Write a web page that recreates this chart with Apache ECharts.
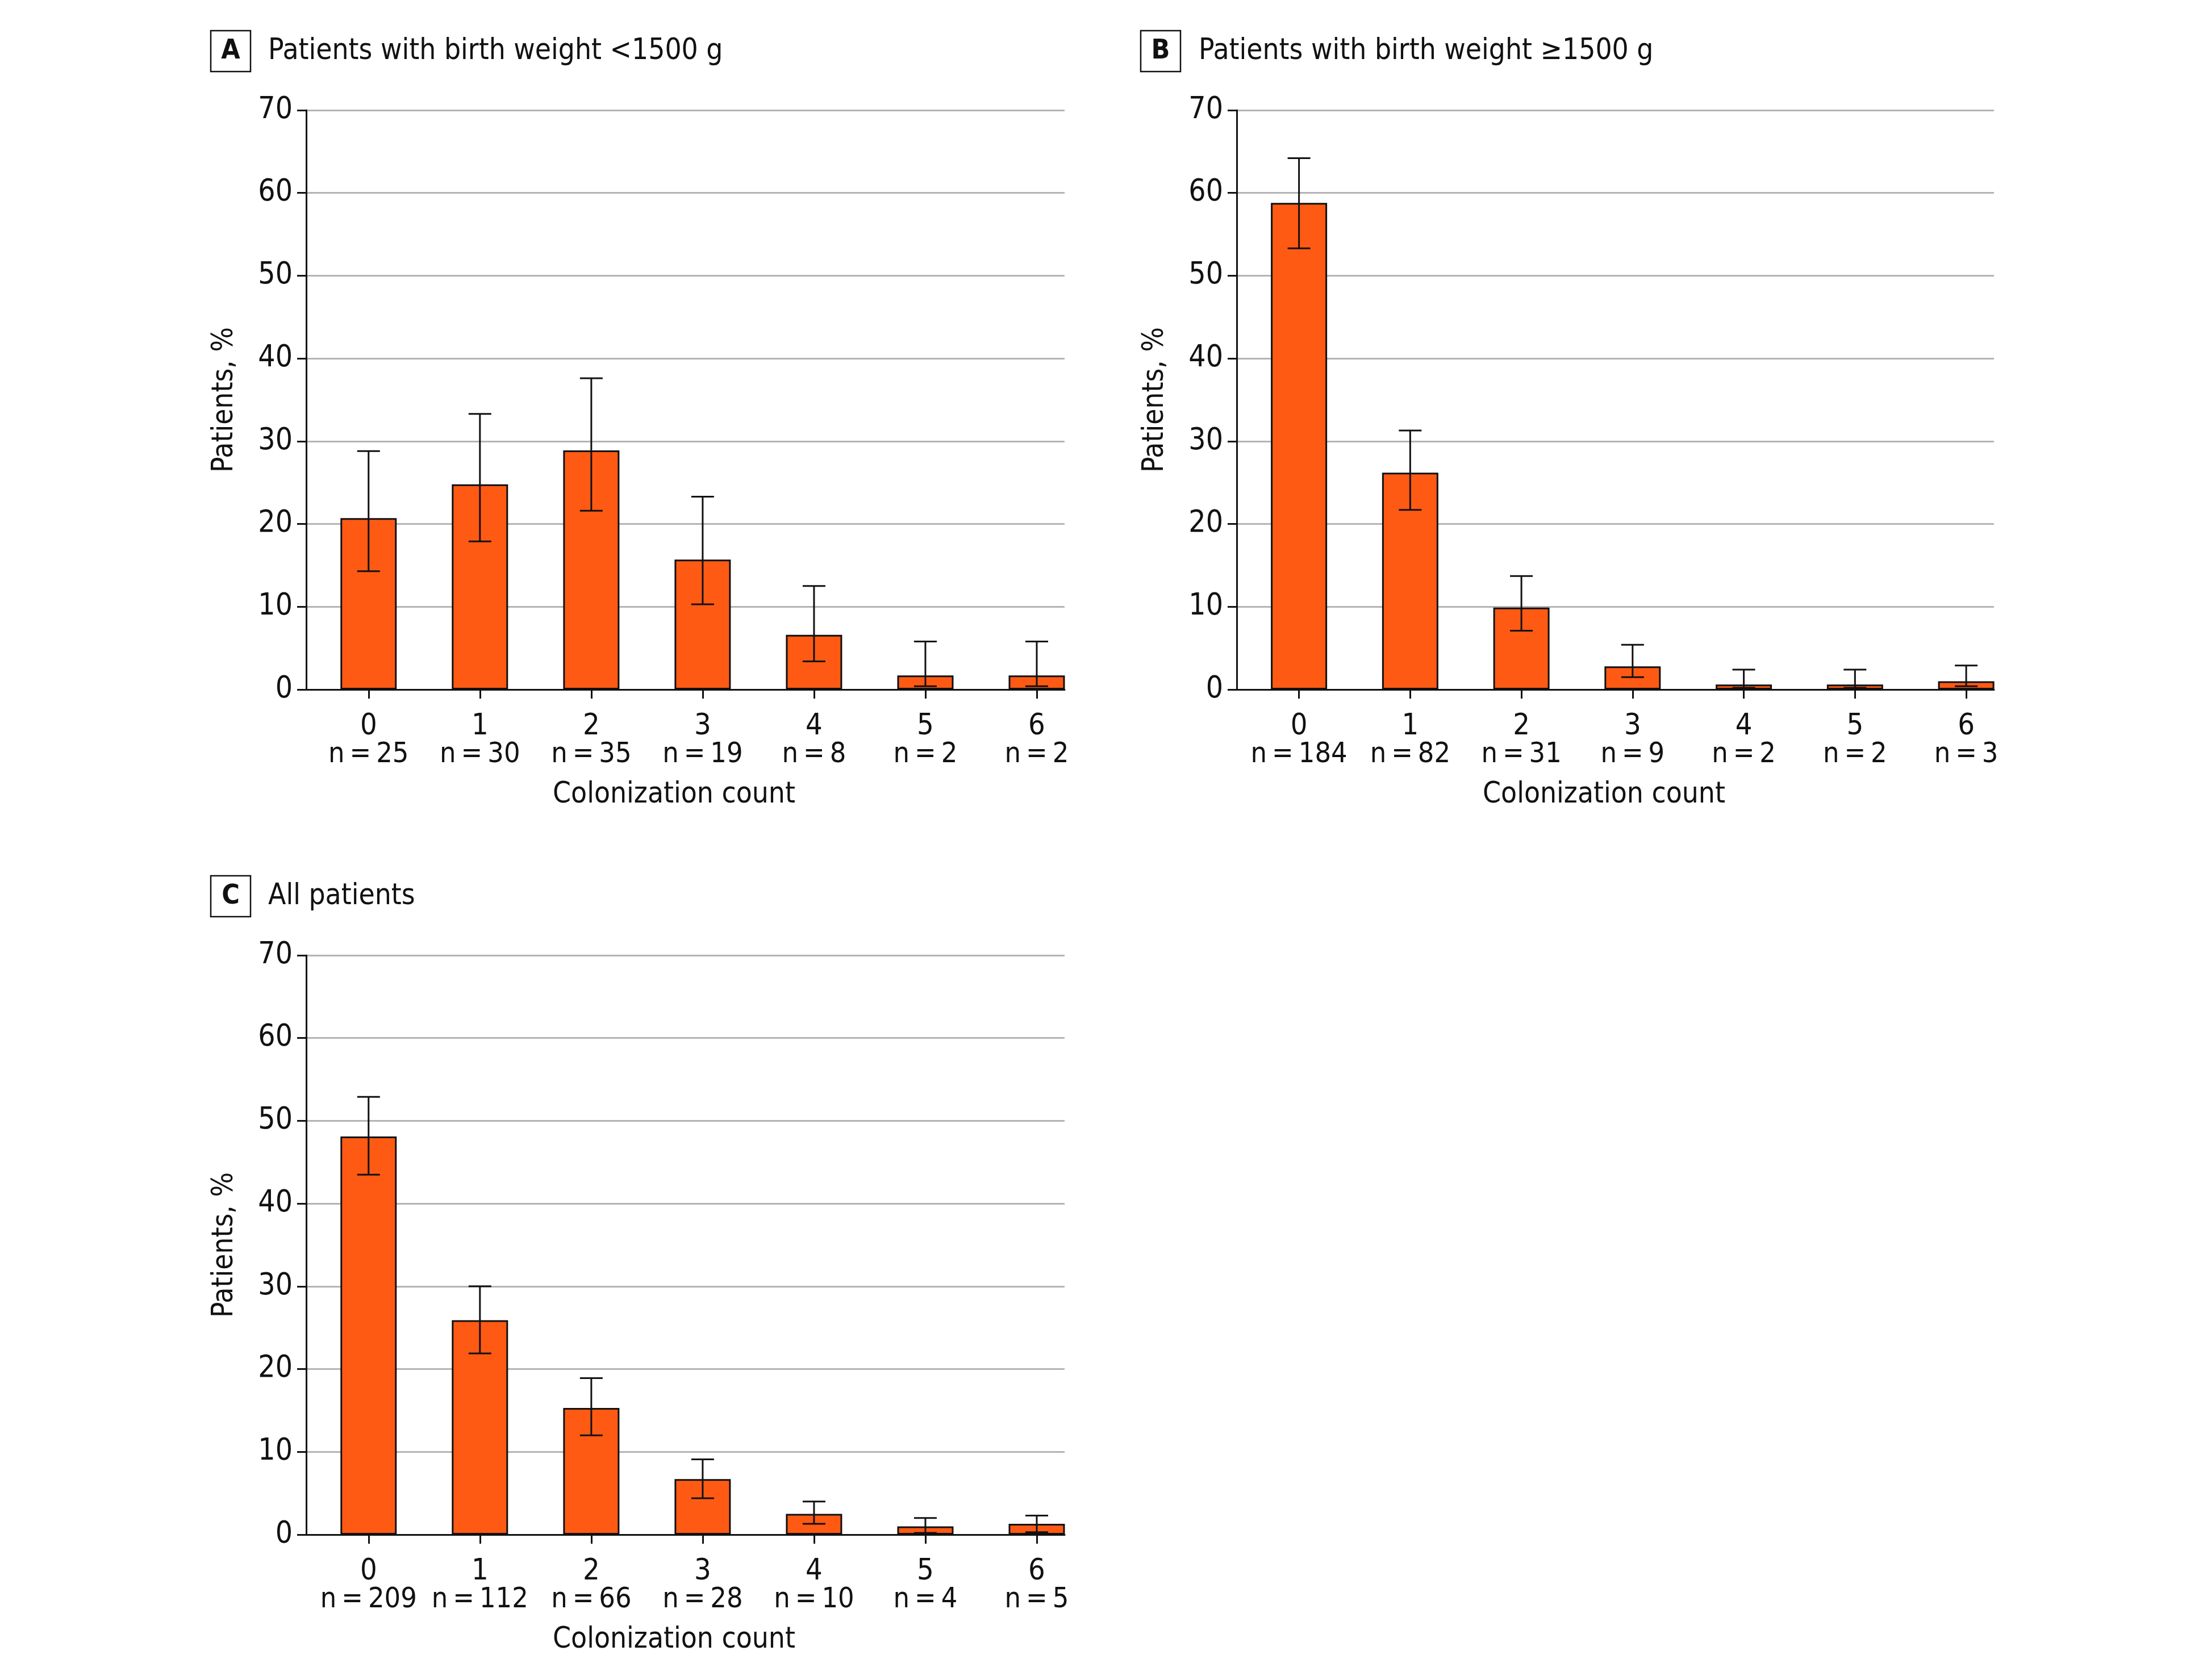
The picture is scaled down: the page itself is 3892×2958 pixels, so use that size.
<!DOCTYPE html>
<html>
<head>
<meta charset="utf-8">
<script src="https://cdn.jsdelivr.net/npm/echarts@6/dist/echarts.min.js"></script>
<style>
body { margin: 0; background: #fff; }
#chart { width: 3892px; height: 2958px; }
</style>
</head>
<body>
<div id="chart"></div>
<script>
// colonization count categories (x positions)
var counts = [0, 1, 2, 3, 4, 5, 6];

// A: birth weight <1500 g
var nA = [25, 30, 35, 19, 8, 2, 2];
var pctA = [20.7, 24.8, 28.9, 15.7, 6.6, 1.7, 1.7];
var lowA = [14.3, 17.9, 21.6, 10.3, 3.4, 0.4, 0.4];
var highA = [28.8, 33.3, 37.6, 23.3, 12.5, 5.8, 5.8];

// B: birth weight >=1500 g
var nB = [184, 82, 31, 9, 2, 2, 3];
var pctB = [58.8, 26.2, 9.9, 2.8, 0.6, 0.6, 1.0];
var lowB = [53.3, 21.7, 7.1, 1.5, 0.2, 0.2, 0.4];
var highB = [64.2, 31.3, 13.7, 5.4, 2.4, 2.4, 2.9];

// C: all patients
var nC = [209, 112, 66, 28, 10, 4, 5];
var pctC = [48.1, 25.9, 15.3, 6.7, 2.5, 1.0, 1.3];
var lowC = [43.5, 21.9, 12.0, 4.4, 1.3, 0.2, 0.3];
var highC = [52.9, 30.0, 18.9, 9.1, 4.0, 2.0, 2.3];

var FONT = '"DejaVu Sans Condensed", "Liberation Sans Narrow", sans-serif';
var BAR = '#ff5a14';
var INK = '#111';

var panels = [
    {letter: 'A', title: 'Patients with birth weight <1500 g', n: nA, pct: pctA, low: lowA, high: highA,
     grid: {left: 539, top: 194, width: 1335, height: 1020}, box: [371, 54], titleX: 472},
    {letter: 'B', title: 'Patients with birth weight \u22651500 g', n: nB, pct: pctB, low: lowB, high: highB,
     grid: {left: 2177, top: 194, width: 1333, height: 1020}, box: [2008, 54], titleX: 2110},
    {letter: 'C', title: 'All patients', n: nC, pct: pctC, low: lowC, high: highC,
     grid: {left: 539, top: 1682, width: 1335, height: 1020}, box: [371, 1542], titleX: 472}
];

function errorBar(params, api) {
    var x = api.value(0);
    var lo = api.coord([x, api.value(1)]);
    var hi = api.coord([x, api.value(2)]);
    var half = 20;
    var style = {stroke: INK, lineWidth: 3};
    return {
        type: 'group',
        children: [
            {type: 'line', shape: {x1: lo[0], y1: lo[1], x2: hi[0], y2: hi[1]}, style: style},
            {type: 'line', shape: {x1: lo[0] - half, y1: lo[1], x2: lo[0] + half, y2: lo[1]}, style: style},
            {type: 'line', shape: {x1: hi[0] - half, y1: hi[1], x2: hi[0] + half, y2: hi[1]}, style: style}
        ]
    };
}

var grids = [], xAxes = [], yAxes = [], series = [], graphics = [];

panels.forEach(function (p, i) {
    grids.push(p.grid);
    xAxes.push({
        type: 'value',
        gridIndex: i,
        min: -0.56,
        max: 6.25,
        splitLine: {show: false},
        axisLine: {onZero: false, lineStyle: {color: INK, width: 3}},
        axisTick: {show: true, customValues: counts, length: 16, lineStyle: {color: INK, width: 3}},
        axisLabel: {
            customValues: counts,
            hideOverlap: false,
            margin: 46,
            formatter: function (v) {
                return '{a|' + v + '}\n{b|n\u2009=\u2009' + p.n[v] + '}';
            },
            rich: {
                a: {fontFamily: FONT, fontSize: 52, lineHeight: 38, color: INK},
                b: {fontFamily: FONT, fontSize: 50, lineHeight: 62, color: INK}
            }
        },
        name: 'Colonization count',
        nameLocation: 'middle',
        nameGap: 160,
        nameTextStyle: {fontFamily: FONT, fontSize: 51, color: INK, padding: [0, 40, 0, 0]}
    });
    yAxes.push({
        type: 'value',
        gridIndex: i,
        min: 0,
        max: 70,
        interval: 10,
        axisLine: {show: true, onZero: false, lineStyle: {color: INK, width: 3}},
        axisTick: {show: true, length: 16, lineStyle: {color: INK, width: 3}},
        axisLabel: {fontFamily: FONT, fontSize: 53, color: INK, margin: 24},
        splitLine: {show: true, lineStyle: {color: '#b4b4b4', width: 3}},
        name: 'Patients, %',
        nameLocation: 'middle',
        nameGap: 118,
        nameTextStyle: {fontFamily: FONT, fontSize: 51, color: INK}
    });
    series.push({
        type: 'bar',
        xAxisIndex: i,
        yAxisIndex: i,
        barWidth: 99,
        data: counts.map(function (c, k) { return [c, p.pct[k]]; }),
        itemStyle: {color: BAR, borderColor: INK, borderWidth: 3},
        z: 3
    });
    series.push({
        type: 'custom',
        xAxisIndex: i,
        yAxisIndex: i,
        renderItem: errorBar,
        encode: {x: 0, y: [1, 2]},
        data: counts.map(function (c, k) { return [c, p.low[k], p.high[k]]; }),
        clip: false,
        z: 5
    });
    graphics.push({
        type: 'rect',
        shape: {x: p.box[0], y: p.box[1], width: 70, height: 72},
        style: {fill: 'none', stroke: INK, lineWidth: 2.5}
    });
    graphics.push({
        type: 'text',
        x: p.box[0] + 35,
        y: p.box[1] + 37,
        style: {text: p.letter, fontFamily: FONT, fontWeight: 'bold', fontSize: 48, fill: INK,
                align: 'center', verticalAlign: 'middle'}
    });
    graphics.push({
        type: 'text',
        x: p.titleX,
        y: p.box[1] + 37,
        style: {text: p.title, fontFamily: FONT, fontSize: 51, fill: INK, verticalAlign: 'middle'}
    });
});

var chart = echarts.init(document.getElementById('chart'));
chart.setOption({
    animation: false,
    backgroundColor: '#fff',
    grid: grids,
    xAxis: xAxes,
    yAxis: yAxes,
    series: series,
    graphic: graphics
});
</script>
</body>
</html>
